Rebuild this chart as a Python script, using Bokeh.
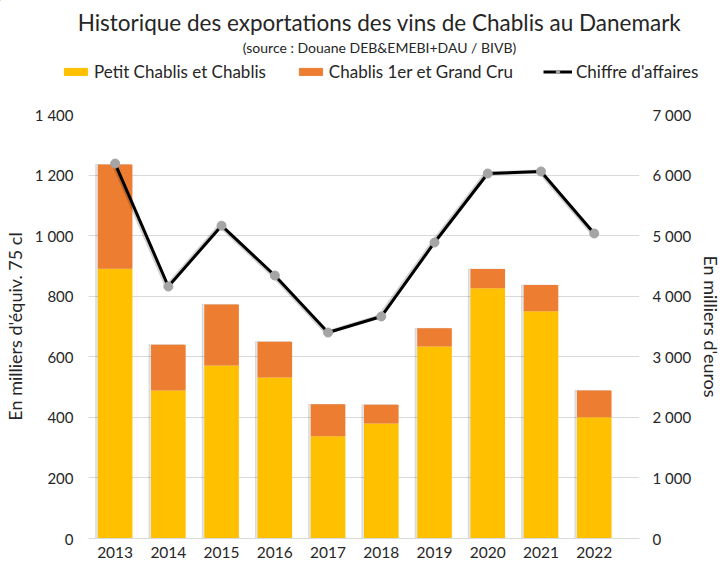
from bokeh.plotting import figure
from bokeh.layouts import column
from bokeh.models import (Range1d, LinearAxis, Legend, LegendItem,
                          FixedTicker, ColumnDataSource)
from bokeh.core.properties import value
from bokeh.transform import stack, dodge
from bokeh.embed import file_html
from bokeh.resources import INLINE

years = ["2013", "2014", "2015", "2016", "2017", "2018", "2019", "2020", "2021", "2022"]
petit_chablis = [891, 489, 571, 532, 338, 380, 634, 826, 750, 400]
premier_grand_cru = [344, 151, 202, 118, 105, 62, 60, 64, 87, 89]
chiffre_affaires = [6190, 4160, 5165, 4342, 3400, 3665, 4887, 6026, 6060, 5036]

left_ticks = [0, 200, 400, 600, 800, 1000, 1200, 1400]
left_labels = ["0", "200", "400", "600", "800", "1 000", "1 200", "1 400"]
right_ticks = [0, 1000, 2000, 3000, 4000, 5000, 6000, 7000]
right_labels = ["0", "1 000", "2 000", "3 000", "4 000", "5 000", "6 000", "7 000"]

title_text = "Historique des exportations des vins de Chablis au Danemark"
subtitle_text = "(source : Douane DEB&EMEBI+DAU / BIVB)"
series_names = ["Petit Chablis et Chablis", "Chablis 1er et Grand Cru", "Chiffre d'affaires"]

FONT = "Lato"
TXT = "#262626"
YELLOW = "#FFC000"
ORANGE = "#ED7D31"
GREY = "#A5A5A5"
W = 725

# ---------------- header (title, subtitle, legend) ----------------
HH = 96
h = figure(width=W, height=HH, x_range=Range1d(0, W), y_range=Range1d(HH, 0),
           output_backend="svg", toolbar_location=None, min_border=0)
h.frame_align = False
h.axis.visible = False
h.grid.visible = False
h.outline_line_color = None
h.text(x=[379], y=[22], text=[title_text], text_font=value(FONT),
       text_font_size="22.5px", text_color=TXT, text_align="center", text_baseline="middle")
h.text(x=[379], y=[47], text=[subtitle_text], text_font=value(FONT),
       text_font_size="14px", text_color=TXT, text_align="center", text_baseline="middle")
# off-screen placeholder renderers that only feed the legend swatches
hidden = ColumnDataSource(dict(x=[-1000], y=[-1000]))
r1 = h.vbar(x="x", top="y", width=1, source=hidden, color=YELLOW)
r2 = h.vbar(x="x", top="y", width=1, source=hidden, color=ORANGE)
r3 = h.line("x", "y", source=hidden, line_color="black", line_width=3)
r4 = h.scatter("x", "y", source=hidden, size=8, color=GREY)
hleg = Legend(items=[LegendItem(label=series_names[0], renderers=[r1]),
                     LegendItem(label=series_names[1], renderers=[r2]),
                     LegendItem(label=series_names[2], renderers=[r3, r4])],
              orientation="horizontal", location=(61, 14), border_line_color=None,
              background_fill_alpha=0, label_text_font=FONT, label_text_font_size="17px",
              label_text_color=TXT, glyph_width=29, glyph_height=9, spacing=30,
              label_standoff=4, padding=2, margin=0)
h.add_layout(hleg, "center")

# ---------------- main chart ----------------
xs = list(range(len(years)))
src = ColumnDataSource(dict(x=xs, petit=petit_chablis, premier=premier_grand_cru,
                            ca=chiffre_affaires))

p = figure(x_range=Range1d(-0.5, 9.85), y_range=Range1d(0, 1400),
           width=W, height=470, output_backend="svg", toolbar_location=None,
           min_border_left=88, min_border_right=78, min_border_bottom=28,
           min_border_top=18)
p.frame_align = False
p.outline_line_color = None
p.extra_y_ranges = {"ca": Range1d(0, 7000)}

# soft bar shadow
p.vbar(x=dodge("x", -0.035), top=stack("petit", "premier"), bottom=-8, width=0.66,
       source=src, color="#000000", alpha=0.1)
p.vbar_stack(["petit", "premier"], x="x", width=0.65,
             color=[YELLOW, ORANGE], line_color=None, source=src)
p.line(x=dodge("x", -0.03), y="ca", source=src, y_range_name="ca",
       line_color="#000000", line_alpha=0.18, line_width=4)
p.line("x", "ca", source=src, y_range_name="ca", line_color="black", line_width=3)
p.scatter("x", "ca", source=src, y_range_name="ca", size=9,
          fill_color=GREY, line_color=GREY)

p.xgrid.grid_line_color = None
p.ygrid.grid_line_color = "#D9D9D9"
p.ygrid.ticker = FixedTicker(ticks=left_ticks)

ya = p.yaxis[0]
ya.ticker = FixedTicker(ticks=left_ticks)
ya.major_label_overrides = {t: l for t, l in zip(left_ticks, left_labels)}
ya.axis_label = "En milliers d'équiv. 75 cl"

ra = LinearAxis(y_range_name="ca", ticker=FixedTicker(ticks=right_ticks),
                major_label_overrides={t: l for t, l in zip(right_ticks, right_labels)},
                axis_label="En milliers d'euros")
p.add_layout(ra, "right")

xa = p.xaxis[0]
for ax in [ya, ra, xa]:
    ax.major_tick_line_color = None
    ax.minor_tick_line_color = None
    ax.major_tick_out = 0
    ax.major_tick_in = 0
    ax.minor_tick_out = 0
    ax.minor_tick_in = 0
    ax.major_label_text_font = FONT
    ax.major_label_text_color = TXT
for ax in [ya, ra]:
    ax.axis_line_color = None
    ax.major_label_text_font_size = "15px"
    ax.axis_label_text_font = FONT
    ax.axis_label_text_font_size = "18px"
    ax.axis_label_text_font_style = "normal"
    ax.axis_label_text_color = TXT
ya.major_label_standoff = 15
ya.axis_label_standoff = 6
ra.major_label_standoff = 13
ra.axis_label_standoff = 6

xa.ticker = FixedTicker(ticks=xs)
xa.major_label_overrides = {i: y for i, y in zip(xs, years)}
xa.axis_line_color = "#D9D9D9"
xa.major_label_text_font_size = "15.5px"
xa.major_label_standoff = 8

layout = column(h, p, spacing=0)
open("out.html", "w").write(file_html(layout, INLINE))
